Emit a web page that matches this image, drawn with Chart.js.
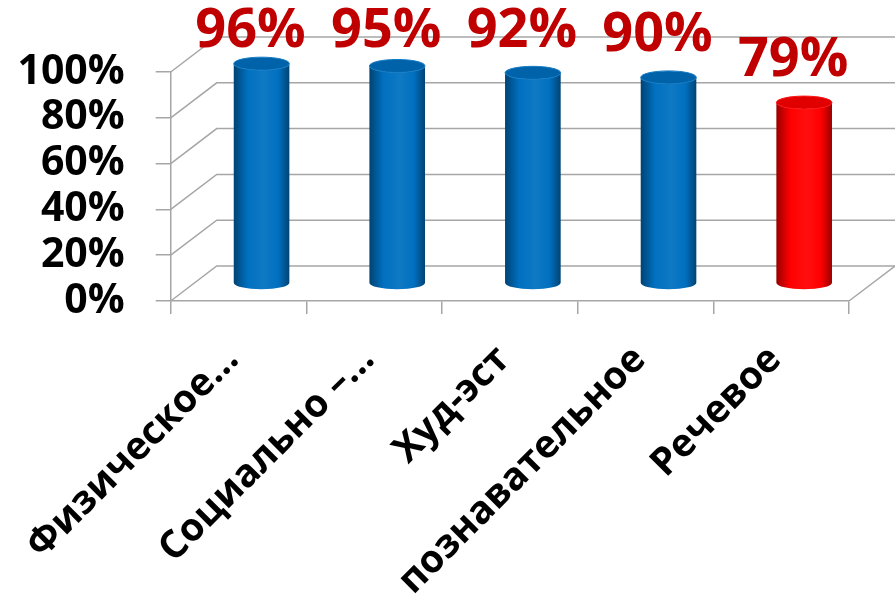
<!DOCTYPE html>
<html>
<head>
<meta charset="utf-8">
<script src="https://cdn.jsdelivr.net/npm/chart.js@4.4.1/dist/chart.umd.min.js"></script>
<style>
html,body{margin:0;padding:0;background:#fff;}
#wrap{width:895px;height:600px;}
</style>
</head>
<body>
<div id="wrap"><canvas id="c" width="895" height="600"></canvas></div>
<script>
// данные
var categories=['Физическое...','Социально –...','Худ-эст','познавательное','Речевое'];
var values=[96,95,92,90,79];
var yMin=0,yMax=100,yStep=20;

// 3D depth of the plot box
var DX=46,DY=-35;

function shade(hex,f){
    var n=parseInt(hex.slice(1),16);
    var r=(n>>16)&255,g=(n>>8)&255,b=n&255;
    function c(v){v=f<1?v*f:v+(255-v)*(f-1);return Math.max(0,Math.min(255,Math.round(v)));}
    return 'rgb('+c(r)+','+c(g)+','+c(b)+')';
}

function cyl(ctx,cx,top,base,w,col){
    var rx=w/2,ry=6.5;
    var gr=ctx.createLinearGradient(cx-rx,0,cx+rx,0);
    gr.addColorStop(0,shade(col,0.6));
    gr.addColorStop(0.25,col);
    gr.addColorStop(0.55,shade(col,1.06));
    gr.addColorStop(0.8,col);
    gr.addColorStop(1,shade(col,0.6));
    ctx.beginPath();
    ctx.moveTo(cx-rx,top);
    ctx.lineTo(cx-rx,base);
    ctx.ellipse(cx,base,rx,ry,0,Math.PI,0,true);
    ctx.lineTo(cx+rx,top);
    ctx.ellipse(cx,top,rx,ry,0,0,Math.PI,false);
    ctx.closePath();
    ctx.fillStyle=gr;ctx.fill();
    // крышка
    ctx.beginPath();
    ctx.ellipse(cx,top,rx,ry,0,0,Math.PI*2);
    ctx.fillStyle=shade(col,0.88);ctx.fill();
    ctx.lineWidth=1;ctx.strokeStyle=shade(col,1.08);ctx.stroke();
}

var frame3d={
    id:'frame3d',
    beforeDatasetsDraw:function(chart){
        var ctx=chart.ctx,x=chart.scales.x,y=chart.scales.y;
        ctx.save();
        ctx.strokeStyle='#a6a6a6';ctx.lineWidth=1.5;
        y.ticks.forEach(function(t){
            var py=y.getPixelForValue(t.value);
            ctx.beginPath();
            ctx.moveTo(x.left,py);
            ctx.lineTo(x.left+DX,py+DY);
            ctx.lineTo(x.right+DX,py+DY);
            ctx.stroke();
        });
        var p0=y.getPixelForValue(yMin);
        ctx.beginPath();ctx.moveTo(x.right,p0);ctx.lineTo(x.right+DX,p0+DY);ctx.stroke();
        ctx.restore();
    },
    beforeDatasetDraw:function(chart,args){
        var ctx=chart.ctx,meta=args.meta;
        ctx.save();
        meta.data.forEach(function(el){
            var p=el.getProps(['x','y','base','width'],true);
            cyl(ctx,p.x+DX/2,p.y+DY/2,p.base+DY/2,p.width,el.options.backgroundColor);
        });
        ctx.restore();
        return false;
    },
    afterDatasetsDraw:function(chart){
        var ctx=chart.ctx,meta=chart.getDatasetMeta(0);
        ctx.save();
        ctx.font='bold 54px "Open Sans"';
        ctx.fillStyle='#C00000';
        ctx.textAlign='center';ctx.textBaseline='middle';
        meta.data.forEach(function(el,i){
            var ty=Math.max(32,el.y+DY/2-42);
            ctx.fillText(values[i]+'%',el.x+12,ty);
        });
        ctx.restore();
    }
};

new Chart(document.getElementById('c'),{
    type:'bar',
    data:{labels:categories,datasets:[{
        data:values,
        backgroundColor:['#0070C0','#0070C0','#0070C0','#0070C0','#FF0000'],
        barPercentage:0.41,categoryPercentage:1
    }]},
    options:{
        responsive:false,animation:false,
        layout:{padding:{top:72,right:46,left:0,bottom:0}},
        plugins:{legend:{display:false},tooltip:{enabled:false}},
        scales:{
            x:{
                offset:true,
                grid:{display:true,drawOnChartArea:false,offset:true,tickLength:13,color:'#a6a6a6',lineWidth:1.5},
                border:{display:true,color:'#a6a6a6',width:1.5},
                ticks:{autoSkip:false,minRotation:45,maxRotation:45,padding:23,labelOffset:-6,color:'#000',
                    font:{family:'"Open Sans"',size:38.5,weight:'bold'}},
                afterFit:function(s){s.height=299;}
            },
            y:{
                min:yMin,max:yMax,
                grid:{display:true,drawOnChartArea:false,tickLength:15,color:'#a6a6a6',lineWidth:1.5},
                border:{display:true,color:'#a6a6a6',width:1.5},
                ticks:{stepSize:yStep,autoSkip:false,padding:31,color:'#000',
                    font:{family:'"Open Sans"',size:41,weight:'bold',lineHeight:1},
                    callback:function(v){return v+'%';}},
                afterFit:function(s){s.width=168;}
            }
        }
    },
    plugins:[frame3d]
});
</script>
</body>
</html>
